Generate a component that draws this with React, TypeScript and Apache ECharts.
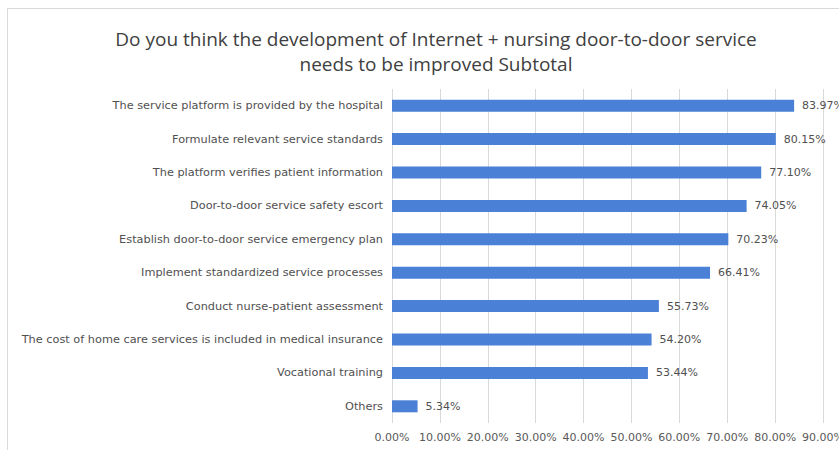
import React, { useEffect, useRef } from "react";
import * as echarts from "echarts";

const categories = [
  "The service platform is provided by the hospital",
  "Formulate relevant service standards",
  "The platform verifies patient information",
  "Door-to-door service safety escort",
  "Establish door-to-door service emergency plan",
  "Implement standardized service processes",
  "Conduct nurse-patient assessment",
  "The cost of home care services is included in medical insurance",
  "Vocational training",
  "Others",
];
const values = [83.97, 80.15, 77.1, 74.05, 70.23, 66.41, 55.73, 54.2, 53.44, 5.34];
const titleText = "Do you think the development of Internet + nursing door-to-door service\nneeds to be improved Subtotal";

export default function App() {
  const ref = useRef<HTMLDivElement>(null);
  useEffect(() => {
    document.body.style.margin = "0";
    const chart = echarts.init(ref.current!, null, { renderer: "svg" });
    const font = "DejaVu Sans";
    chart.setOption({
      animation: false,
      backgroundColor: "#ffffff",
      title: {
        text: titleText,
        left: 431,
        textAlign: "center",
        top: 21,
        textStyle: { fontFamily: "Open Sans", fontSize: 19, fontWeight: "normal", color: "#404040", lineHeight: 25 },
      },
      graphic: [
        {
          type: "rect",
          shape: { x: 7.5, y: 8.5, width: 860, height: 460 },
          style: { fill: "none", stroke: "#d9d9d9", lineWidth: 1 },
          silent: true,
        },
      ],
      grid: { left: 392, right: 16, top: 89, bottom: 27, containLabel: false, outerBoundsMode: "none" },
      xAxis: {
        type: "value",
        min: 0,
        max: 90,
        interval: 10,
        axisLine: { show: false },
        axisTick: { show: false },
        splitLine: { lineStyle: { color: "#d9d9d9" } },
        axisLabel: {
          formatter: (v: number) => v.toFixed(2) + "%",
          fontFamily: font,
          fontSize: 11,
          color: "#595959",
          margin: 9,
        },
      },
      yAxis: {
        type: "category",
        data: categories,
        inverse: true,
        axisLine: { show: false },
        axisTick: { show: false },
        axisLabel: { fontFamily: font, fontSize: 11.3, color: "#505050", margin: 9 },
      },
      series: [
        {
          type: "bar",
          data: values,
          barWidth: 12,
          itemStyle: { color: "#4a80d6" },
          label: {
            show: true,
            position: "right",
            distance: 8,
            formatter: (p: any) => p.value.toFixed(2) + "%",
            fontFamily: font,
            fontSize: 11,
            color: "#505050",
          },
        },
      ],
    });
    return () => chart.dispose();
  }, []);
  return <div ref={ref} style={{ width: 839, height: 450 }} />;
}
